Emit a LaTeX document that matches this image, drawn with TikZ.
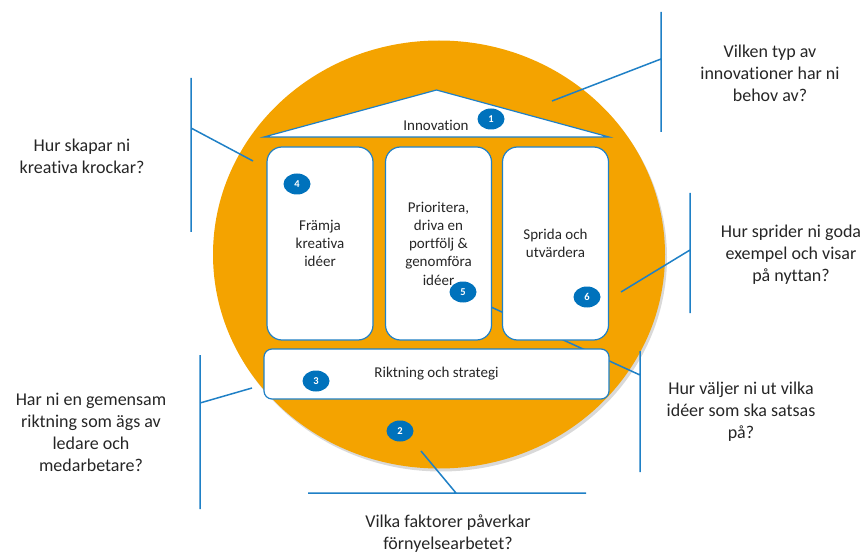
\documentclass[tikz,border=0pt]{standalone}
\usepackage{fontspec}
\setmainfont{Carlito}[Ligatures=CommonOff]
\usetikzlibrary{shapes.geometric,shadows}
\definecolor{husorange}{HTML}{F4A300}
\definecolor{lineblue}{HTML}{1F80C6}
\definecolor{badgeblue}{HTML}{0072BC}
\definecolor{textgray}{HTML}{262626}

\begin{document}
\begin{tikzpicture}[x=1pt, y=-1pt, >=stealth,
    pillar/.style={draw=lineblue, line width=1.2pt, fill=white, rounded corners=15pt,
      minimum width=106pt, minimum height=193pt, align=center, inner sep=2pt,
      font=\fontsize{15}{18.3}\selectfont, text=textgray},
    badge/.style={ellipse, fill=badgeblue, text=white, inner sep=0pt,
      minimum width=27pt, minimum height=21pt, font=\fontsize{10.5}{10.5}\selectfont\bfseries},
    question/.style={align=center, font=\fontsize{18}{22}\selectfont, text=textgray},
    bracket/.style={lineblue, line width=1.5pt}]
                \useasboundingbox (0,0) rectangle (865,556);

                % Define the coordinates
                \coordinate (kTop) at (191,78);
                \coordinate (kBot) at (191,232);
                \coordinate (kMid) at (191,128);
                \coordinate (kEnd) at (253,161);
                \coordinate (rTop) at (200,355);
                \coordinate (rBot) at (200,509);
                \coordinate (rMid) at (200,403);
                \coordinate (rEnd) at (252,388);
                \coordinate (tTop) at (661,12);
                \coordinate (tBot) at (661,132);
                \coordinate (tMid) at (661,59);
                \coordinate (tEnd) at (552,101);
                \coordinate (sTop) at (690,193);
                \coordinate (sBot) at (690,313);
                \coordinate (sMid) at (690,250);
                \coordinate (sEnd) at (621,292);
                \coordinate (vTop) at (640,351);
                \coordinate (vBot) at (640,472);
                \coordinate (vMid) at (640,375);
                \coordinate (vEnd) at (480,302);
                \coordinate (fLeft) at (308,493);
                \coordinate (fRight) at (586,493);
                \coordinate (fMid) at (456,493);
                \coordinate (fEnd) at (421,451);

                % Draw the circle
                \fill[husorange, drop shadow={shadow xshift=2pt, shadow yshift=-3pt, opacity=0.3}]
                  (439,254.5) ellipse [x radius=226pt, y radius=214pt];

                % Draw the brackets
                \draw[bracket] (kTop) -- (kBot) (kMid) -- (kEnd);
                \draw[bracket] (rTop) -- (rBot) (rMid) -- (rEnd);
                \draw[bracket] (tTop) -- (tBot) (tMid) -- (tEnd);
                \draw[bracket] (sTop) -- (sBot) (sMid) -- (sEnd);
                \draw[bracket] (vTop) -- (vBot) (vMid) -- (vEnd);
                \draw[bracket] (fLeft) -- (fRight) (fMid) -- (fEnd);

                % Draw the house
                \draw[lineblue, line width=1.2pt, fill=white] (264,137) -- (436.5,90) -- (609,137) -- cycle;
                \node[text=textgray, font=\fontsize{15}{18}\selectfont] (innovation) at (436,125) {Innovation};
                \node[pillar] (framja) at (320,243.5) {Främja\\kreativa\\idéer};
                \node[pillar] (prioritera) at (438.5,243.5) {Prioritera,\\driva en\\portfölj \&\\genomföra\\idéer};
                \node[pillar] (sprida) at (555.5,243.5) {Sprida och\\utvärdera};
                \node[pillar, rounded corners=8pt, minimum width=345pt, minimum height=50pt] (riktning)
                  at (436.5,374) {Riktning och strategi};

                % Draw the numbers
                \node[badge] (b1) at (491,119) {1};
                \node[badge] (b2) at (400,431) {2};
                \node[badge] (b3) at (316,381) {3};
                \node[badge] (b4) at (297,184) {4};
                \node[badge] (b5) at (463,292) {5};
                \node[badge] (b6) at (587,297) {6};

                % Draw the questions
                \node[question] (qKrockar) at (82,156) {Hur skapar ni\\kreativa krockar?};
                \node[question] (qRiktning) at (91,432) {Har ni en gemensam\\riktning som ägs av\\ledare och\\medarbetare?};
                \node[question] (qTyp) at (770,73) {Vilken typ av\\innovationer har ni\\behov av?};
                \node[question] (qSprida) at (791,255) {Hur sprider ni goda\\exempel och visar\\på nyttan?};
                \node[question] (qValjer) at (741,412) {Hur väljer ni ut vilka\\idéer som ska satsas\\på?};
                \node[question] (qFaktorer) at (448,534) {Vilka faktorer påverkar\\förnyelsearbetet?};
              \end{tikzpicture}
\end{document}
